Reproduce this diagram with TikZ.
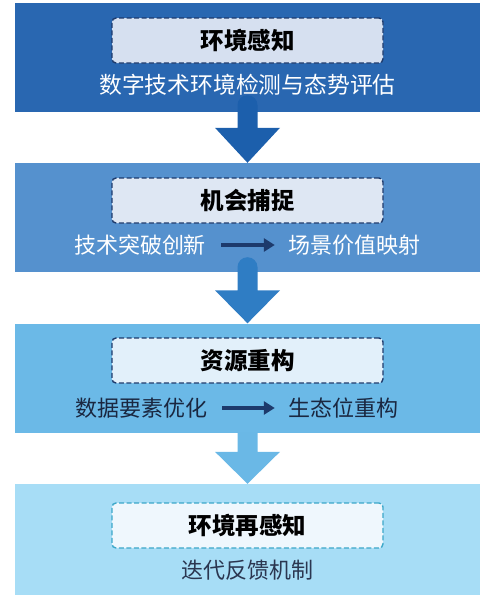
\documentclass[tikz,border=0pt]{standalone}
\usepackage{fontspec}
\newfontfamily\cjk{Noto Sans CJK SC}
\usetikzlibrary{calc,arrows.meta}
\definecolor{pone}{HTML}{2967B1}
\definecolor{ptwo}{HTML}{5591CE}
\definecolor{pthree}{HTML}{6BB9E7}
\definecolor{pfour}{HTML}{A7DDF6}
\definecolor{aone}{HTML}{1C5FAC}
\definecolor{atwo}{HTML}{2F7DC4}
\definecolor{athree}{HTML}{6AB8E6}
\definecolor{fone}{HTML}{D6E0F0}
\definecolor{ftwo}{HTML}{DEE7F3}
\definecolor{fthree}{HTML}{E2F0FA}
\definecolor{ffour}{HTML}{EFF7FD}
\definecolor{navy}{HTML}{1D3A6C}
\definecolor{teal}{HTML}{3BA7C9}
\definecolor{darktxt}{HTML}{1A2740}
\definecolor{slate}{HTML}{2B3650}
\tikzset{
  panel/.style={draw=none, minimum width=465pt, minimum height=109pt, inner sep=0pt},
  titlebox/.style={rounded corners=4pt, line width=1.4pt, dash pattern=on 5pt off 2.5pt,
    minimum width=271pt, minimum height=45pt, inner sep=0pt,
    font=\cjk\bfseries\fontsize{23.5}{27}\selectfont, text=black},
  subtxt/.style={inner sep=0pt, font=\cjk\fontsize{22}{26}\selectfont},
  innerarrow/.style={line width=4.5pt, navy, -{Triangle[length=11pt,width=13pt]}}
}
\begin{document}
\begin{tikzpicture}[x=1pt,y=-1pt]
\useasboundingbox (0,0) rectangle (500,608);
% panels
\node[panel, fill=pone] (p1) at (247.5,57.5) {};
\node[panel, fill=ptwo] (p2) at (247.5,217.5) {};
\node[panel, fill=pthree] (p3) at (247.5,378) {};
\node[panel, fill=pfour, minimum height=111pt] (p4) at (247.5,539.5) {};
% big arrows
\fill[aone] let \p1=(p1.south), \p2=(p2.north) in
  (\x1-10pt,\y2+35pt) -- (\x1-10pt,\y1+7pt) arc[start angle=180,end angle=0,radius=10pt]
  -- (\x1+10pt,\y2+35pt) -- (\x1+32.5pt,\y2+35pt) -- (\x2,\y2) -- (\x1-32.5pt,\y2+35pt) -- cycle;
\fill[atwo] let \p1=(p2.south), \p2=(p3.north) in
  (\x1-10pt,\y2+33pt) -- (\x1-10pt,\y1+5pt) arc[start angle=180,end angle=0,radius=10pt]
  -- (\x1+10pt,\y2+33pt) -- (\x1+32.5pt,\y2+33pt) -- (\x2,\y2) -- (\x1-32.5pt,\y2+33pt) -- cycle;
\fill[athree] let \p1=(p3.south), \p2=(p4.north) in
  (\x1-10pt,\y2+32pt) -- (\x1-10pt,\y1) -- (\x1+10pt,\y1)
  -- (\x1+10pt,\y2+32pt) -- (\x1+32.5pt,\y2+32pt) -- (\x2,\y2) -- (\x1-32.5pt,\y2+32pt) -- cycle;
% title boxes
\node[titlebox, draw=navy, fill=fone] (t1) at (247.5,40.5) {环境感知};
\node[titlebox, draw=navy, fill=ftwo] (t2) at (247.5,200.5) {机会捕捉};
\node[titlebox, draw=navy, fill=fthree] (t3) at (247.5,360.5) {资源重构};
\node[titlebox, draw=teal, fill=ffour] (t4) at (247.5,525.5) {环境再感知};
% subtitles
\node[subtxt, text=white, font=\cjk\fontsize{22.8}{27}\selectfont] (s1) at (247.5,85) {数字技术环境检测与态势评估};
\node[subtxt, text=white] (s2l) at (140,245) {技术突破创新};
\node[subtxt, text=white] (s2r) at (354,245) {场景价值映射};
\draw[innerarrow] (s2l.east) ++(15pt,0) coordinate (a2s) -- ($(s2r.west)+(-13pt,0)$) coordinate (a2e);
\node[subtxt, text=darktxt] (s3l) at (141,408) {数据要素优化};
\node[subtxt, text=darktxt] (s3r) at (343,408) {生态位重构};
\draw[innerarrow] (s3l.east) ++(15pt,0) coordinate (a3s) -- ($(s3r.west)+(-13pt,0)$) coordinate (a3e);
\node[subtxt, text=slate] (s4) at (247.5,570) {迭代反馈机制};
\end{tikzpicture}
\end{document}
